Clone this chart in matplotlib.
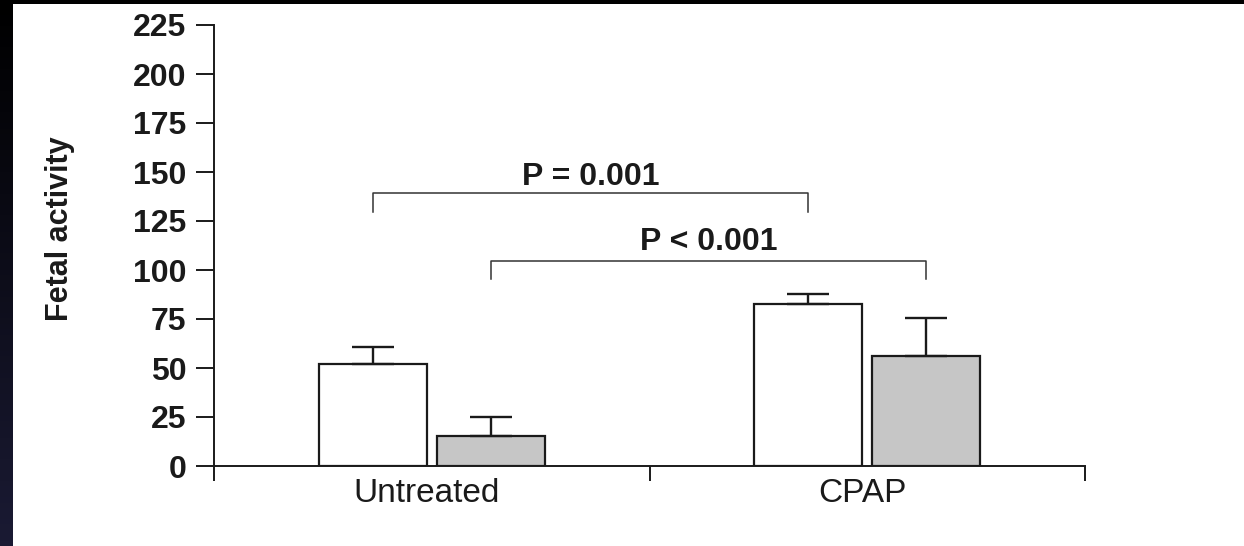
import numpy as np
import matplotlib
matplotlib.use("Agg")
from matplotlib import pyplot as plt
from matplotlib.patches import Rectangle

plt.rcParams['font.family'] = ['Liberation Sans', 'DejaVu Sans']

groups = ["Untreated", "CPAP"]
white_vals = [52.0, 82.4]
white_err = [8.7, 5.2]
grey_vals = [15.5, 56.3]
grey_err = [9.7, 19.4]
y_ticks = [0, 25, 50, 75, 100, 125, 150, 175, 200, 225]
p_labels = ["P = 0.001", "P < 0.001"]

fig = plt.figure(figsize=(12.44, 5.46), dpi=100, facecolor="black")
# white page with dark border on top / left
fig.patches.append(Rectangle((12 / 1244, 0), 1, 1 - 4 / 546, transform=fig.transFigure,
                             facecolor="white", edgecolor="none", zorder=-10))
# dark blue-ish gradient strip on the left edge
strip = fig.add_axes([0, 0, 12 / 1244, 1 - 4 / 546])
strip.imshow(np.linspace(0, 1, 100).reshape(-1, 1), aspect="auto", origin="upper",
             cmap=matplotlib.colors.LinearSegmentedColormap.from_list("s", ["#000000", "#1a1a33"]))
strip.axis("off")

ax = fig.add_axes([214 / 1244, 1 - 466 / 546, (1085 - 214) / 1244, (466 - 25) / 546])
ax.set_facecolor("white")

x = np.arange(len(groups))
w = 0.248
off = 0.136
ink = "#1a1a1a"

ax.bar(x - off, white_vals, w, color="white", edgecolor=ink, linewidth=1.6, zorder=3)
ax.bar(x + off, grey_vals, w, color="#c6c6c6", edgecolor=ink, linewidth=1.6, zorder=3)
ax.errorbar(x - off, white_vals, yerr=[np.zeros(2), white_err], fmt="none",
            ecolor=ink, elinewidth=1.7, capsize=15, capthick=1.7, zorder=4)
ax.errorbar(x + off, grey_vals, yerr=[np.zeros(2), grey_err], fmt="none",
            ecolor=ink, elinewidth=1.7, capsize=15, capthick=1.7, zorder=4)

# significance brackets
b1_x = [x[0] - off, x[1] - off]
b2_x = [x[0] + off, x[1] + off]
ax.plot([b1_x[0], b1_x[0], b1_x[1], b1_x[1]], [129.7, 139.1, 139.1, 129.7],
        color="#333333", lw=1.1, clip_on=False)
ax.plot([b2_x[0], b2_x[0], b2_x[1], b2_x[1]], [95.5, 104.6, 104.6, 95.5],
        color="#333333", lw=1.1, clip_on=False)
ax.text(np.mean(b1_x), 143.4, p_labels[0], ha="center", va="baseline",
        fontsize=23, fontweight="bold", color=ink)
ax.text(np.mean(b2_x), 110.2, p_labels[1], ha="center", va="baseline",
        fontsize=23, fontweight="bold", color=ink)

ax.set_xlim(-0.5, 1.5)
ax.set_ylim(0, 225)
ax.set_yticks(y_ticks)
ax.set_yticklabels([str(t) for t in y_ticks], fontsize=23, fontweight="bold", color=ink)
ax.tick_params(axis="y", length=13, width=1.4, pad=7, color=ink)

ax.set_xticks(x - 0.012)
ax.set_xticklabels(groups, fontsize=24, color=ink)
ax.set_xticks([-0.5, 0.5, 1.5], minor=True)
ax.tick_params(axis="x", which="major", length=0, pad=9)
ax.tick_params(axis="x", which="minor", length=11, width=1.4, color=ink)

for s in ["top", "right"]:
    ax.spines[s].set_visible(False)
for s in ["left", "bottom"]:
    ax.spines[s].set_linewidth(1.4)
    ax.spines[s].set_color(ink)

fig.text(60 / 1244, 1 - 229 / 546, "Fetal activity", rotation=90, ha="center", va="center",
         fontsize=22, fontweight="bold", color=ink)

fig.savefig("out.png", dpi=100, facecolor=fig.get_facecolor())
